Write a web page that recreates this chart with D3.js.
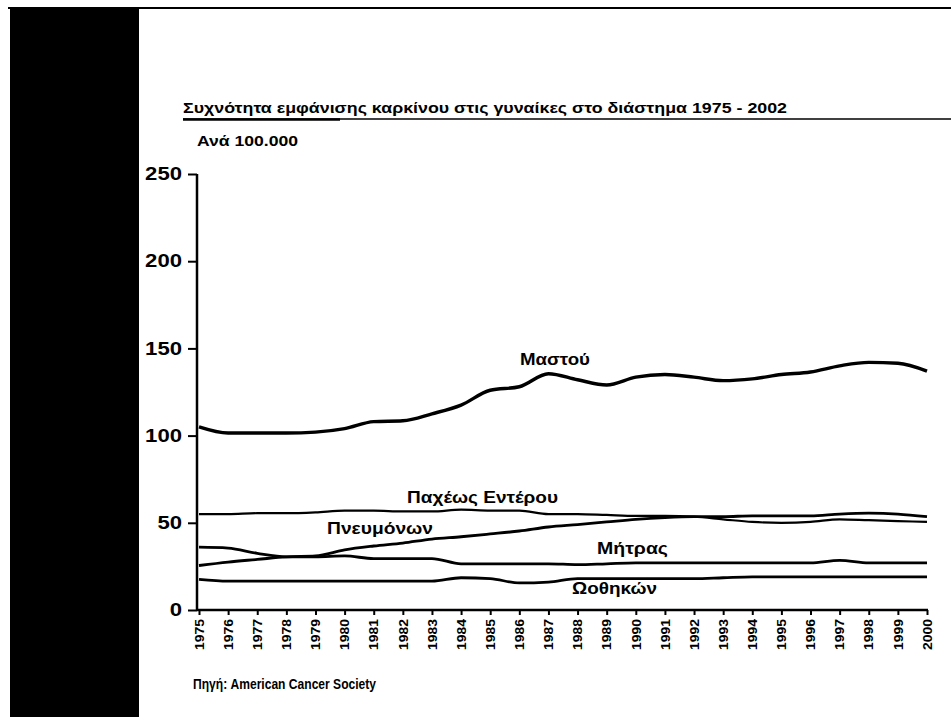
<!DOCTYPE html>
<html>
<head>
<meta charset="utf-8">
<script src="https://cdn.jsdelivr.net/npm/d3@7"></script>
<style>
  html, body { margin: 0; padding: 0; background: #fff; }
  svg { display: block; }
  text { font-family: "Liberation Sans", Arial, sans-serif; fill: #000; }
</style>
</head>
<body>
<svg id="chart" width="951" height="717"></svg>
<script>
// Incidence per 100,000 women, 1975-2000
const years = ["1975","1976","1977","1978","1979","1980","1981","1982","1983","1984","1985","1986","1987",
               "1988","1989","1990","1991","1992","1993","1994","1995","1996","1997","1998","1999","2000"];
const breast  = [105,101.5,101.5,101.5,102,104,108,108.5,112.5,117.5,126,128,135.5,132,129,133.5,135,133.5,131.5,132.5,135,136.5,140,142,141.5,137];
const colon   = [55,55,55.5,55.5,56,57,57,56.5,56.5,57.5,57,57,55,55,54.5,54,54,53.5,52,50.5,50,50.5,52,51.5,51,50.5];
const lung    = [25.5,27.5,29,30.5,31,34.5,36.7,38.4,40.7,42,43.6,45.3,47.6,49,50.5,52,53,53.5,53.5,54,54,54,55,55.5,55,53.5];
const uterus  = [36,35.5,32.5,30.5,30.5,31,29.5,29.5,29.5,26.5,26.5,26.5,26.5,26,26.5,27,27,27,27,27,27,27,28.5,27,27,27];
const ovary   = [17.5,16.5,16.5,16.5,16.5,16.5,16.5,16.5,16.5,18.5,18,15.5,16,18,18,18,18,18,18.5,19,19,19,19,19,19,19];
const yTicks  = [0,50,100,150,200,250];

const titleText  = "Συχνότητα εμφάνισης καρκίνου στις γυναίκες στο διάστημα 1975 - 2002";
const unitText   = "Ανά 100.000";
const sourceText = "Πηγή: American Cancer Society";

const series = [
  { name: "Μαστού",          values: breast, width: 3.4, label: { x: 520, y: 365, len: 70 } },
  { name: "Παχέως Εντέρου",  values: colon,  width: 2.2, label: { x: 407, y: 503, len: 151 } },
  { name: "Πνευμόνων",       values: lung,   width: 2.8, label: { x: 327, y: 534, len: 106 } },
  { name: "Μήτρας",          values: uterus, width: 2.8, label: { x: 597, y: 554, len: 71 } },
  { name: "Ωοθηκών",         values: ovary,  width: 2.8, label: { x: 572, y: 594, len: 85 } }
];

const svg = d3.select("#chart");

// page frame: dark strip on the left and thin rule along the top
svg.append("rect").attr("x", 10).attr("y", 9).attr("width", 129).attr("height", 708).attr("fill", "#000");
svg.append("line").attr("x1", 8).attr("x2", 951).attr("y1", 8).attr("y2", 8)
   .attr("stroke", "#000").attr("stroke-width", 2);

const x = d3.scalePoint().domain(years).range([199, 927]);
const y = d3.scaleLinear().domain([0, 250]).range([610, 174]);

// title and underline
svg.append("text").attr("x", 183).attr("y", 113)
   .attr("font-size", 14).attr("font-weight", "bold")
   .attr("textLength", 604).attr("lengthAdjust", "spacingAndGlyphs")
   .text(titleText);
svg.append("line").attr("x1", 183).attr("x2", 951).attr("y1", 119).attr("y2", 119)
   .attr("stroke", "#000").attr("stroke-width", 1.5);
svg.append("line").attr("x1", 183).attr("x2", 340).attr("y1", 119.5).attr("y2", 119.5)
   .attr("stroke", "#000").attr("stroke-width", 2.5);

svg.append("text").attr("x", 197).attr("y", 146)
   .attr("font-size", 14).attr("font-weight", "bold")
   .attr("textLength", 101).attr("lengthAdjust", "spacingAndGlyphs")
   .text(unitText);

// y axis
const yAxis = svg.append("g").attr("transform", "translate(197,0)")
  .call(d3.axisLeft(y).tickValues(yTicks).tickSize(9).tickPadding(6).tickFormat(d3.format("d")));
yAxis.select(".domain").attr("stroke-width", 2.5).attr("d", `M0,${y(250)}V${y(0)}`);
yAxis.selectAll(".tick line").attr("stroke-width", 2);
yAxis.selectAll(".tick text").attr("font-size", 18).attr("font-weight", "bold")
  .attr("font-family", "Liberation Sans, Arial, sans-serif")
  .attr("textLength", d => String(d).length * 12.3)
  .attr("lengthAdjust", "spacingAndGlyphs");

// x axis with vertical year labels
const xAxis = svg.append("g").attr("transform", `translate(0,${y(0)})`)
  .call(d3.axisBottom(x).tickSize(5).tickSizeOuter(0));
xAxis.select(".domain").attr("stroke-width", 2.5).attr("d", `M197,0H928`);
xAxis.selectAll(".tick line").attr("stroke-width", 2);
xAxis.selectAll(".tick text")
  .attr("font-size", 12).attr("font-weight", "bold")
  .attr("font-family", "Liberation Sans, Arial, sans-serif")
  .attr("transform", "rotate(-90)")
  .attr("text-anchor", "end")
  .attr("textLength", 31).attr("lengthAdjust", "spacingAndGlyphs")
  .attr("x", -9).attr("y", 0).attr("dy", "0.35em");

// series lines
const line = d3.line()
  .x((d, i) => x(years[i]))
  .y(d => y(d))
  .curve(d3.curveMonotoneX);

series.forEach(s => {
  svg.append("path")
    .datum(s.values)
    .attr("fill", "none")
    .attr("stroke", "#000")
    .attr("stroke-width", s.width)
    .attr("stroke-linejoin", "round")
    .attr("d", line);
});

// series labels
series.forEach(s => {
  svg.append("text")
    .attr("x", s.label.x).attr("y", s.label.y)
    .attr("font-size", 17).attr("font-weight", "bold")
    .attr("textLength", s.label.len).attr("lengthAdjust", "spacingAndGlyphs")
    .text(s.name);
});

// source note
svg.append("text").attr("x", 193).attr("y", 689)
   .attr("font-size", 14.5).attr("font-weight", "bold")
   .attr("textLength", 183).attr("lengthAdjust", "spacingAndGlyphs")
   .text(sourceText);
</script>
</body>
</html>
